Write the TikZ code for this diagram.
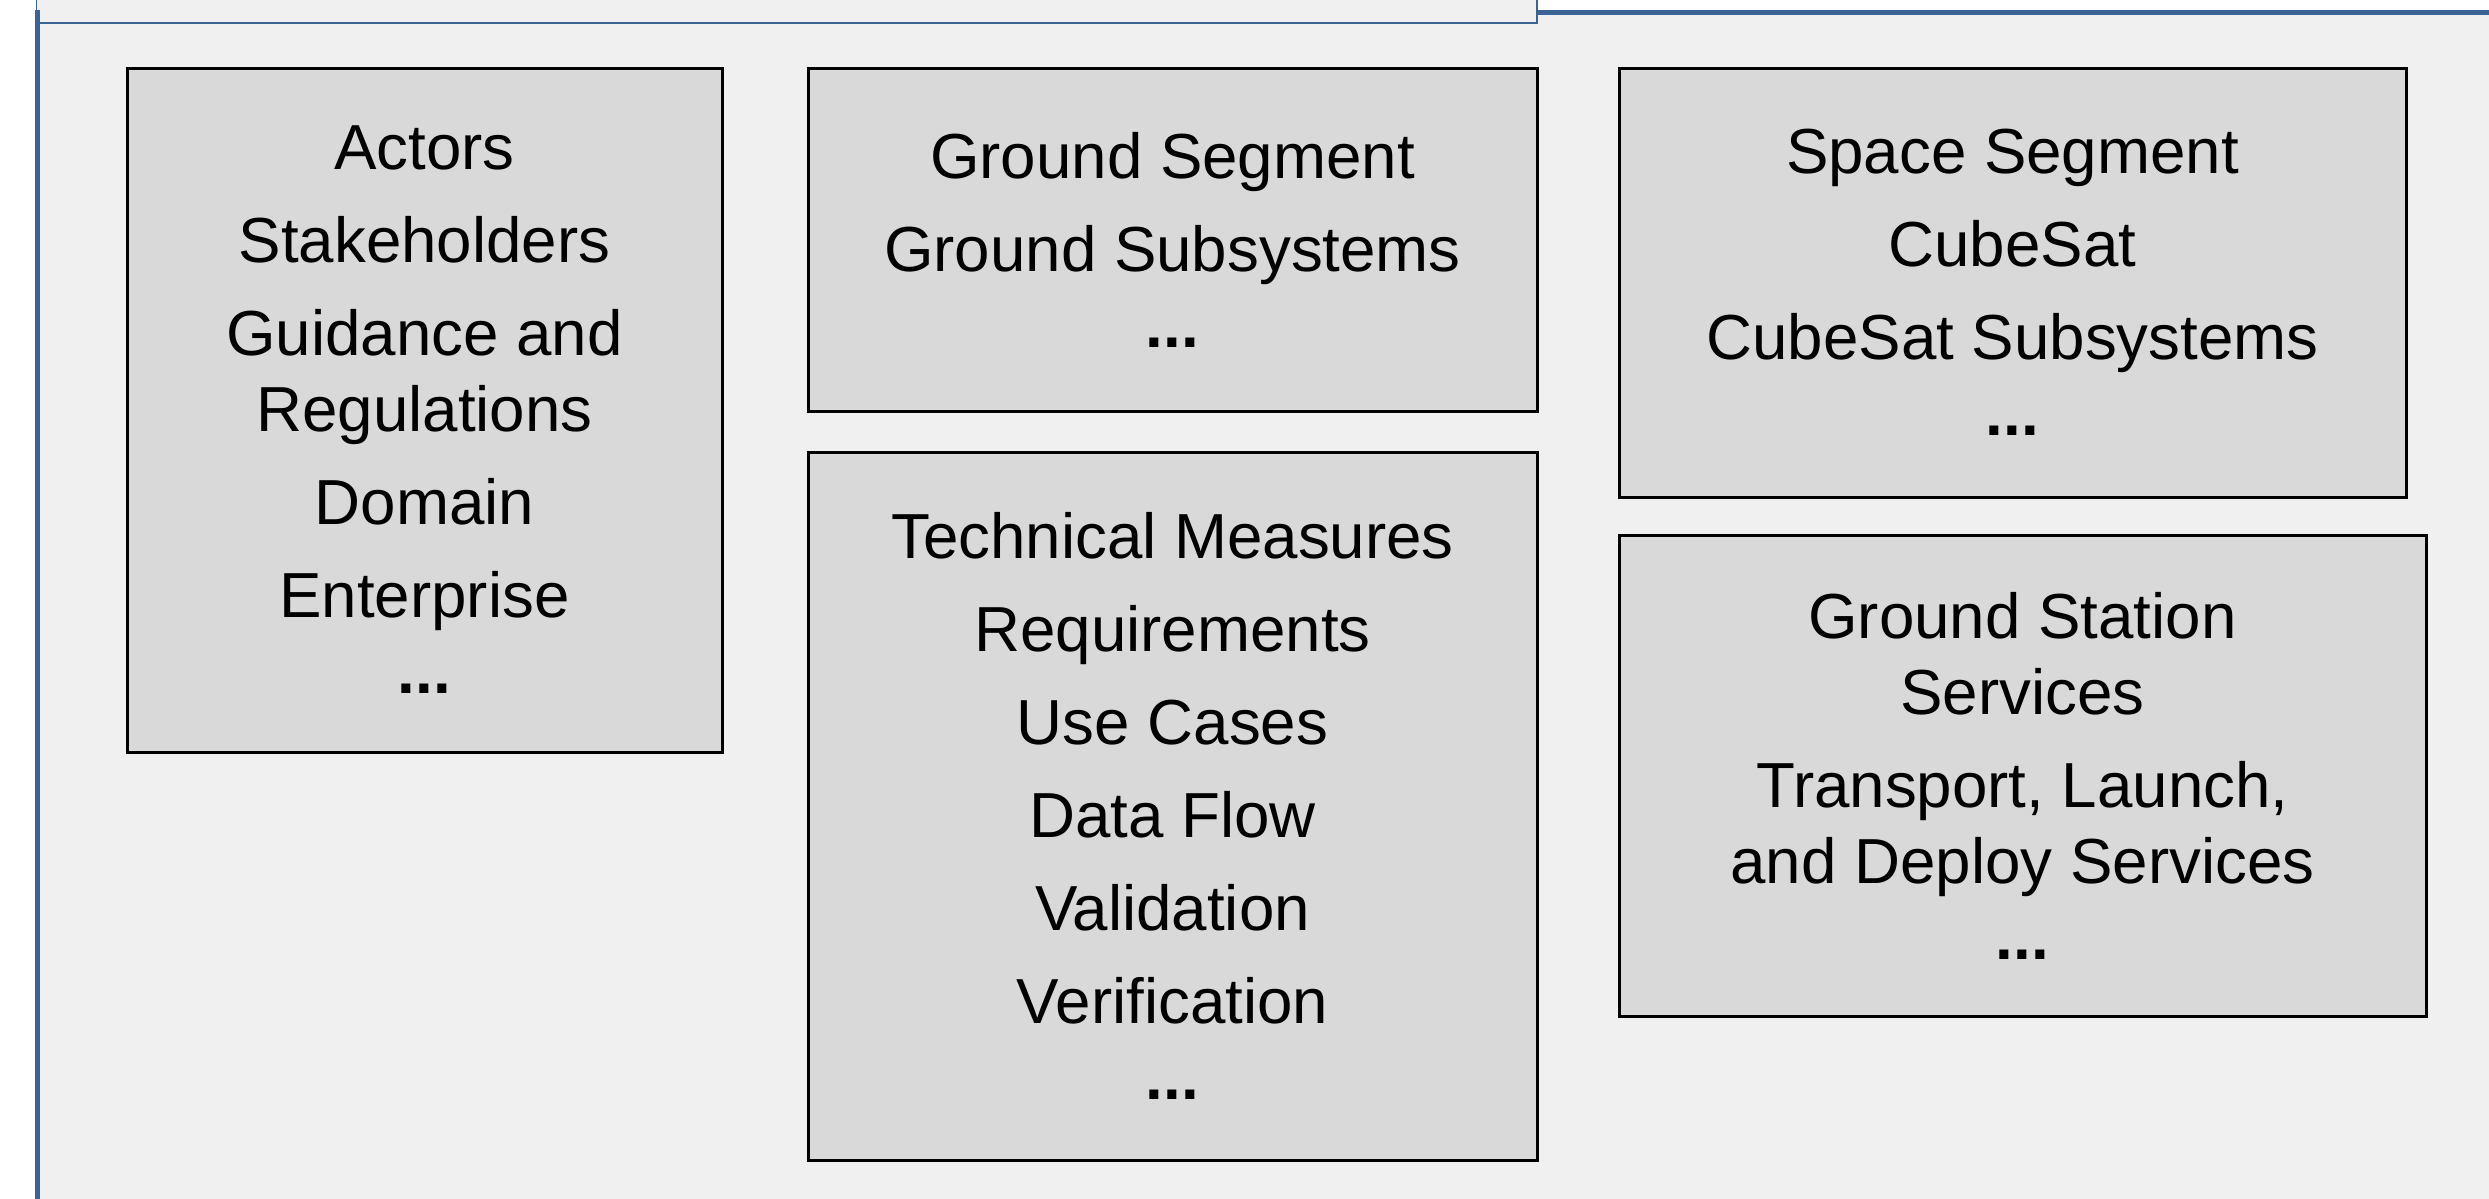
\documentclass[tikz,border=0pt]{standalone}
\usepackage{fontspec}
\setmainfont{Liberation Sans}
\definecolor{pkgblue}{HTML}{3B6496}
\definecolor{pkgbg}{HTML}{F0F0F0}
\definecolor{boxgray}{HTML}{D9D9D9}
\tikzset{
  box/.style={draw=black, line width=0.9pt, fill=boxgray, align=center,
    font=\fontsize{19.1}{22.8}\selectfont, inner sep=0pt},
  thickblue/.style={draw=pkgblue, line width=1.5pt},
  thinblue/.style={draw=pkgblue, line width=0.45pt}
}
\begin{document}
\begin{tikzpicture}[x=0.3pt,y=-0.3pt]
\clip (0,0) rectangle (2489,1199);
\fill[white] (0,0) rectangle (2489,1199);
% package body
\fill[pkgbg] (37,12.7) rectangle (2500,1210);
% tab
\fill[pkgbg] (37,-10) rectangle (1537,23);
\draw[thinblue] (1537,-10) -- (1537,23) -- (37,23);
\draw[thinblue] (36.5,-10) -- (36.5,12);
% thick frame lines
\draw[thickblue] (37,10) -- (37,1210);
\draw[thickblue] (1537,12.7) -- (2500,12.7);

\node[box, minimum width=178.5pt, minimum height=205.2pt] (actors) at (424.5,410)
 {Actors\\[5.1pt]Stakeholders\\[5.1pt]Guidance and\\Regulations\\[5.1pt]Domain\\[5.1pt]Enterprise\\\textbf{...}};
\node[box, minimum width=218.7pt, minimum height=102.9pt] (ground) at (1172.5,239.5)
 {Ground Segment\\[5.1pt]Ground Subsystems\\\textbf{...}};
\node[box, minimum width=218.7pt, minimum height=212.4pt] (tech) at (1172.5,806)
 {Technical Measures\\[5.1pt]Requirements\\[5.1pt]Use Cases\\[5.1pt]Data Flow\\[5.1pt]Validation\\[5.1pt]Verification\\\textbf{...}};
\node[box, minimum width=236.1pt, minimum height=128.7pt] (space) at (2012.5,282.5)
 {Space Segment\\[5.1pt]CubeSat\\[5.1pt]CubeSat Subsystems\\\textbf{...}};
\node[box, minimum width=242.1pt, minimum height=144.3pt] (gss) at (2022.5,775.5)
 {Ground Station\\Services\\[5.1pt]Transport, Launch,\\and Deploy Services\\\textbf{...}};
\end{tikzpicture}
\end{document}
